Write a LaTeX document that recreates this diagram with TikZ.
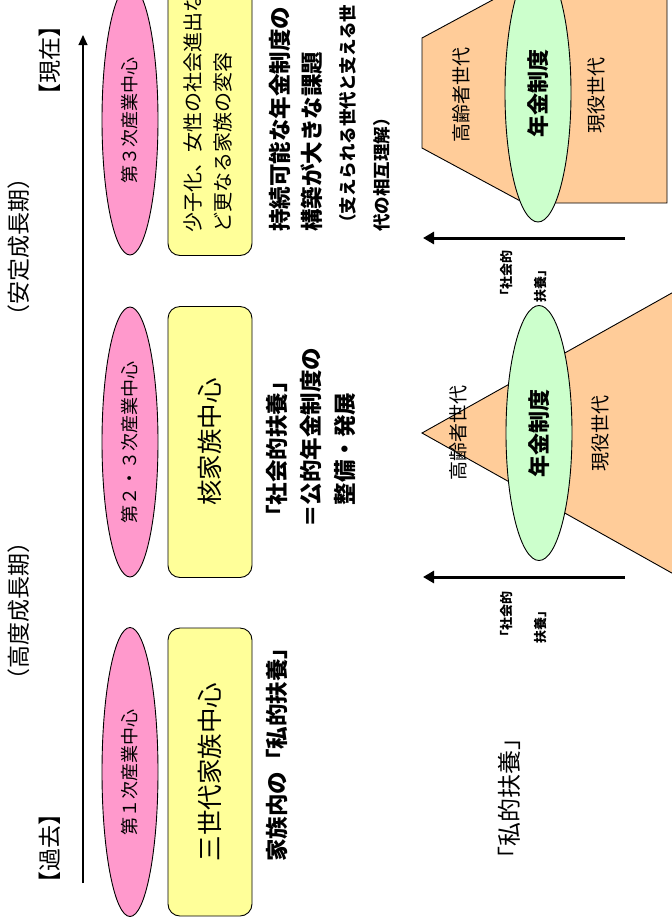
\documentclass[tikz,border=0pt]{standalone}
\usepackage{fontspec}
\setmainfont{Noto Sans CJK JP}
\usetikzlibrary{shapes.geometric,arrows.meta}
\definecolor{pinkc}{HTML}{FF99CC}
\definecolor{yelc}{HTML}{FFFF99}
\definecolor{grnc}{HTML}{CCFFCC}
\definecolor{orgc}{HTML}{FFCC99}
\begin{document}
\begin{tikzpicture}[x=1pt,y=-1pt,
  vt/.style={rotate=90, inner sep=0pt, align=left},
  pinkell/.style={ellipse, draw=black, line width=0.9pt, fill=pinkc, rotate=90, inner sep=0pt, minimum height=56pt, font=\fontsize{18}{20}\selectfont},
  yelbox/.style={rectangle, rounded corners=12pt, draw=black, line width=0.9pt, fill=yelc, rotate=90, inner sep=0pt, minimum height=84pt, font=\fontsize{25.5}{28}\selectfont},
  grnell/.style={ellipse, draw=black, line width=0.9pt, fill=grnc, rotate=90, inner sep=0pt, minimum height=66pt, font=\bfseries\fontsize{22}{24}\selectfont},
  pyr/.style={draw=black, line width=0.9pt, fill=orgc},
  bigarrow/.style={line width=3pt, -{Triangle[length=11pt,width=12pt]}},
  timearrow/.style={line width=1.1pt, -{Triangle[length=10pt,width=9pt]}},
  period/.style={vt, font=\fontsize{23}{25}\selectfont},
  boldtxt/.style={vt, anchor=west, font=\bfseries\fontsize{22.5}{34}\selectfont},
  gen/.style={vt, font=\fontsize{19}{21}\selectfont},
  arrlab/.style={vt, anchor=west, font=\bfseries\fontsize{13}{34}\selectfont}
]
\useasboundingbox (0,0) rectangle (672,922);
\fill[white] (0,0) rectangle (672,922);

% timeline
\coordinate (tl0) at (83,883);
\coordinate (tl1) at (83,35);
\draw[timearrow] (tl0) -- (tl1);
\node[period] (now) at (50,60) {【現在】};
\node[period] (past) at (50,848) {【過去】};
\node[period] (hi) at (19,611) {（高度成長期）};
\node[period] (st) at (19,247) {（安定成長期）};

% industry ellipses
\node[pinkell, minimum width=289pt] (e1) at (130,772) {第１次産業中心};
\node[pinkell, minimum width=270pt] (e2) at (130,442) {第２・３次産業中心};
\node[pinkell, minimum width=270pt] (e3) at (130,120) {第３次産業中心};

% family boxes
\node[yelbox, minimum width=288pt] (r1) at (210,772) {三世代家族中心};
\node[yelbox, minimum width=271pt] (r2) at (210,442) {核家族中心};
\node[yelbox, minimum width=271pt] (r3) at (210,120) {};
\node[vt, anchor=west, font=\fontsize{20}{30}\selectfont] (r3t) at (208,233) {少子化、女性の社会進出な\\ど更なる家族の変容};

% descriptions
\node[boldtxt] (t1) at (277,862) {家族内の「私的扶養」};
\node[boldtxt] (t2) at (311,528) {「社会的扶養」\\＝公的年金制度の\\　整備・発展};
\node[boldtxt, font=\bfseries\fontsize{22.5}{32}\selectfont] (t3) at (296,232) {持続可能な年金制度の\\構築が大きな課題};
\node[vt, anchor=west, font=\bfseries\fontsize{17.5}{34}\selectfont] (t4) at (365,232) {（支えられる世代と支える世\\代の相互理解）};

% upper pyramid (trapezoid + rectangle)
\draw[pyr] (422,38) -- (524,-17) -- (667,-17) -- (667,203) -- (524,203) -- (422,148) -- cycle;
\node[grnell, minimum width=258pt] (g1) at (538,93) {年金制度};
\node[gen] (o1) at (461,95) {高齢者世代};
\node[gen] (w1) at (596,95) {現役世代};

% lower pyramid (triangle)
\draw[pyr] (422,433) -- (720,266) -- (720,600) -- cycle;
\node[grnell, minimum width=255pt] (g2) at (539,433) {年金制度};
\node[gen] (o2) at (458,433) {高齢者世代};
\node[gen] (w2) at (600,433) {現役世代};

% arrows
\coordinate (a1s) at (625,238);
\coordinate (a1e) at (423,238);
\draw[bigarrow] (a1s) -- (a1e);
\coordinate (a2s) at (625,577);
\coordinate (a2e) at (423,577);
\draw[bigarrow] (a2s) -- (a2e);
\node[arrlab] (l1) at (524,303) {「社会的\\扶養」};
\node[arrlab] (l2) at (524,644) {「社会的\\扶養」};

\node[vt, font=\fontsize{24}{26}\selectfont] (pv) at (509,798) {「私的扶養」};
\end{tikzpicture}
\end{document}
